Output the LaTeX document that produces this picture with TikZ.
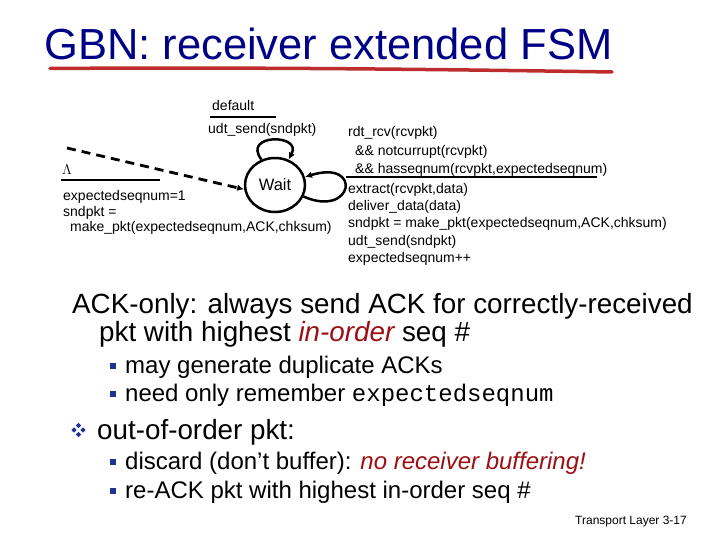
\documentclass[tikz,border=0pt]{standalone}
\usepackage{fontspec}
\setmainfont{Liberation Sans}
\setmonofont{Liberation Mono}
\usetikzlibrary{arrows.meta, shapes.geometric}

\definecolor{titleblue}{RGB}{0,0,135}
\definecolor{ulred}{RGB}{190,45,45}
\definecolor{emred}{RGB}{155,15,20}
\definecolor{bulblue}{RGB}{30,50,150}

\begin{document}
\begin{tikzpicture}[
  x=1pt, y=-1pt,
  fsm/.style={anchor=base west, inner sep=0pt, font=\fontsize{14}{17}\selectfont},
  state/.style={draw, ellipse, line width=2.5pt, minimum width=60pt, minimum height=54pt, inner sep=0pt, font=\fontsize{16.5}{18}\selectfont},
  trans/.style={-{Latex[length=7pt,width=6.5pt]}, line width=2.5pt},
  init/.style={trans, line width=2.8pt, dash pattern=on 9pt off 6pt},
  rule/.style={line width=2pt},
  main/.style={anchor=base west, inner sep=0pt, font=\fontsize{27.8}{32}\selectfont},
  sub/.style={anchor=base west, inner sep=0pt, font=\fontsize{24}{28}\selectfont},
  sqbul/.style={fill=bulblue, inner sep=0pt, minimum size=6pt}
]
  \useasboundingbox (0,0) rectangle (720,540);

  % title
  \node[anchor=base west, inner sep=0pt, text=titleblue, font=\fontsize{43.5}{50}\selectfont] (title) at (44,60) {GBN: receiver extended FSM};
  \draw[ulred, line width=3.5pt, line cap=round] (50,68.5) .. controls (250,67) and (450,69.5) .. (612,72);

  % receiver FSM
  \node[state] (wait) at (275,185) {Wait};
  \coordinate (start) at (67,148);
  \draw[init] (start) -- (wait.188);
  \draw[trans] (wait.118) .. controls +(-20,-26) and +(14,-26) .. (wait.62);
  \draw[trans] (wait.-22) .. controls +(50,22) and +(58,-18) .. (wait.15);

  \node[fsm, font=\fontsize{14.5}{16}\selectfont] (lam) at (62,175) {$\Lambda$};
  \draw[rule] (61,180) -- (160,180);
  \node[fsm] (init1) at (63,201) {expectedseqnum=1};
  \node[fsm] (init2) at (63,216) {sndpkt =};
  \node[fsm] (init3) at (70,231) {make\_pkt(expectedseqnum,ACK,chksum)};

  \node[fsm] (dflt) at (212,111) {default};
  \draw[rule] (210,117) -- (276,117);
  \node[fsm] (dfltact) at (208,134) {udt\_send(sndpkt)};

  \node[fsm] (rcv1) at (348,137) {rdt\_rcv(rcvpkt)};
  \node[fsm] (rcv2) at (355,156) {\&\& notcurrupt(rcvpkt)};
  \node[fsm] (rcv3) at (355,174) {\&\& hasseqnum(rcvpkt,expectedseqnum)};
  \draw[rule] (346,177.5) -- (597,177.5);
  \node[fsm] (act1) at (348,194) {extract(rcvpkt,data)};
  \node[fsm] (act2) at (348,211) {deliver\_data(data)};
  \node[fsm] (act3) at (348,228) {sndpkt = make\_pkt(expectedseqnum,ACK,chksum)};
  \node[fsm] (act4) at (348,245) {udt\_send(sndpkt)};
  \node[fsm] (act5) at (348,262) {expectedseqnum++};

  % bullet text
  \node[main] (p1) at (72,313) {ACK-only: always send ACK for correctly-received};
  \node[main] (p1b) at (99,341) {pkt with highest \textcolor{emred}{\itshape in-order} seq \#};
  \node[sqbul] (b1) at (113,366) {};
  \node[sub] (s1) at (125,373) {may generate duplicate ACKs};
  \node[sqbul] (b2) at (113,394) {};
  \node[sub] (s2) at (125,401) {need only remember \texttt{expectedseqnum}};

  \foreach \dx/\dy in {-4.5/0, 4.5/0, 0/-4.5, 0/4.5}
    \fill[bulblue, shift={(78.5+\dx,430+\dy)}] (-2.6,0) -- (0,-2.6) -- (2.6,0) -- (0,2.6) -- cycle;
  \node[main] (p2) at (97,439) {out-of-order pkt:};
  \node[sqbul] (b3) at (113,462) {};
  \node[sub] (s3) at (125,469) {discard (don’t buffer): \textcolor{emred}{\itshape no receiver buffering!}};
  \node[sqbul] (b4) at (113,491) {};
  \node[sub] (s4) at (125,498) {re-ACK pkt with highest in-order seq \#};

  \node[anchor=base west, inner sep=0pt, font=\fontsize{12}{14}\selectfont] (foot) at (575,524) {Transport Layer 3-17};
\end{tikzpicture}
\end{document}
